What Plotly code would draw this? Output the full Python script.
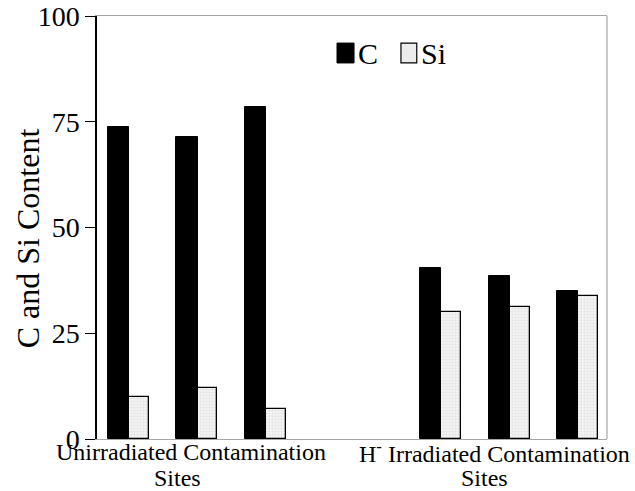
import plotly.graph_objects as go

# Site positions along the x axis (two groups of three sites)
site_pos = [1, 2, 3, 5.57, 6.57, 7.57]
carbon = [73.7, 71.5, 78.4, 40.5, 38.5, 35.1]
silicon = [9.9, 12.0, 7.0, 30.0, 31.3, 33.7]
y_ticks = [0, 25, 50, 75, 100]

SERIF = "'Liberation Serif', 'Times New Roman', 'DejaVu Serif', serif"
FRAME = "#a6a6a6"

fig = go.Figure()
fig.add_trace(go.Bar(
    x=site_pos, y=carbon, name="C",
    width=0.31, offset=-0.31,
    marker=dict(color="black", line=dict(color="black", width=1)),
))
fig.add_trace(go.Bar(
    x=site_pos, y=silicon, name="Si",
    width=0.29, offset=0.0,
    marker=dict(
        color="#f1f1f1",
        line=dict(color="black", width=1.3),
        pattern=dict(shape=".", fgcolor="#cfcfcf", bgcolor="#f3f3f3",
                     size=3, solidity=0.35),
    ),
))

fig.update_layout(
    width=635, height=491,
    margin=dict(l=97, r=28, t=16, b=52, autoexpand=False),
    paper_bgcolor="white", plot_bgcolor="white",
    showlegend=False,
    bargap=0,
    font=dict(family=SERIF, color="black"),
    xaxis=dict(
        range=[0.527, 7.994], showticklabels=False, ticks="",
        showgrid=False, zeroline=False, automargin=False,
        showline=True, linecolor=FRAME, linewidth=1.2, mirror=True,
    ),
    yaxis=dict(
        range=[0, 100], tickvals=y_ticks, ticks="outside", ticklen=10,
        tickcolor="black", tickwidth=1, automargin=False,
        tickfont=dict(size=28, family=SERIF, color="black"),
        showgrid=False, zeroline=False,
        showline=True, linecolor="black", linewidth=1.5,
    ),
)

# right edge of the frame
fig.add_shape(type="line", xref="paper", yref="paper", x0=1, x1=1, y0=0, y1=1,
              line=dict(color=FRAME, width=1.2))

# legend swatches and labels
fig.add_shape(type="rect", xref="paper", yref="paper",
              x0=0.4706, x1=0.504, y0=0.889, y1=0.936,
              fillcolor="black", line=dict(color="black", width=1))
fig.add_shape(type="rect", xref="paper", yref="paper",
              x0=0.596, x1=0.627, y0=0.889, y1=0.936,
              fillcolor="#ececec", line=dict(color="black", width=1.2))

def label(text, x, y, size, xanchor="center", angle=0):
    fig.add_annotation(text=text, x=x, y=y, xref="paper", yref="paper",
                       xanchor=xanchor, yanchor="middle", showarrow=False,
                       textangle=angle, font=dict(size=size, family=SERIF, color="black"))

label("C", 0.508, 0.9125, 30, xanchor="left")
label("Si", 0.631, 0.9125, 30, xanchor="left")

label("C and Si Content", -0.135, 0.475, 32, angle=-90)

label("Unirradiated Contamination", -0.0843, -0.0307, 24, xanchor="left")
label("Sites", 0.157, -0.0922, 24)
label("H<sup>-</sup> Irradiated Contamination", 0.5098, -0.0307, 24, xanchor="left")
label("Sites", 0.759, -0.0922, 24)

fig.write_html("out.html")
